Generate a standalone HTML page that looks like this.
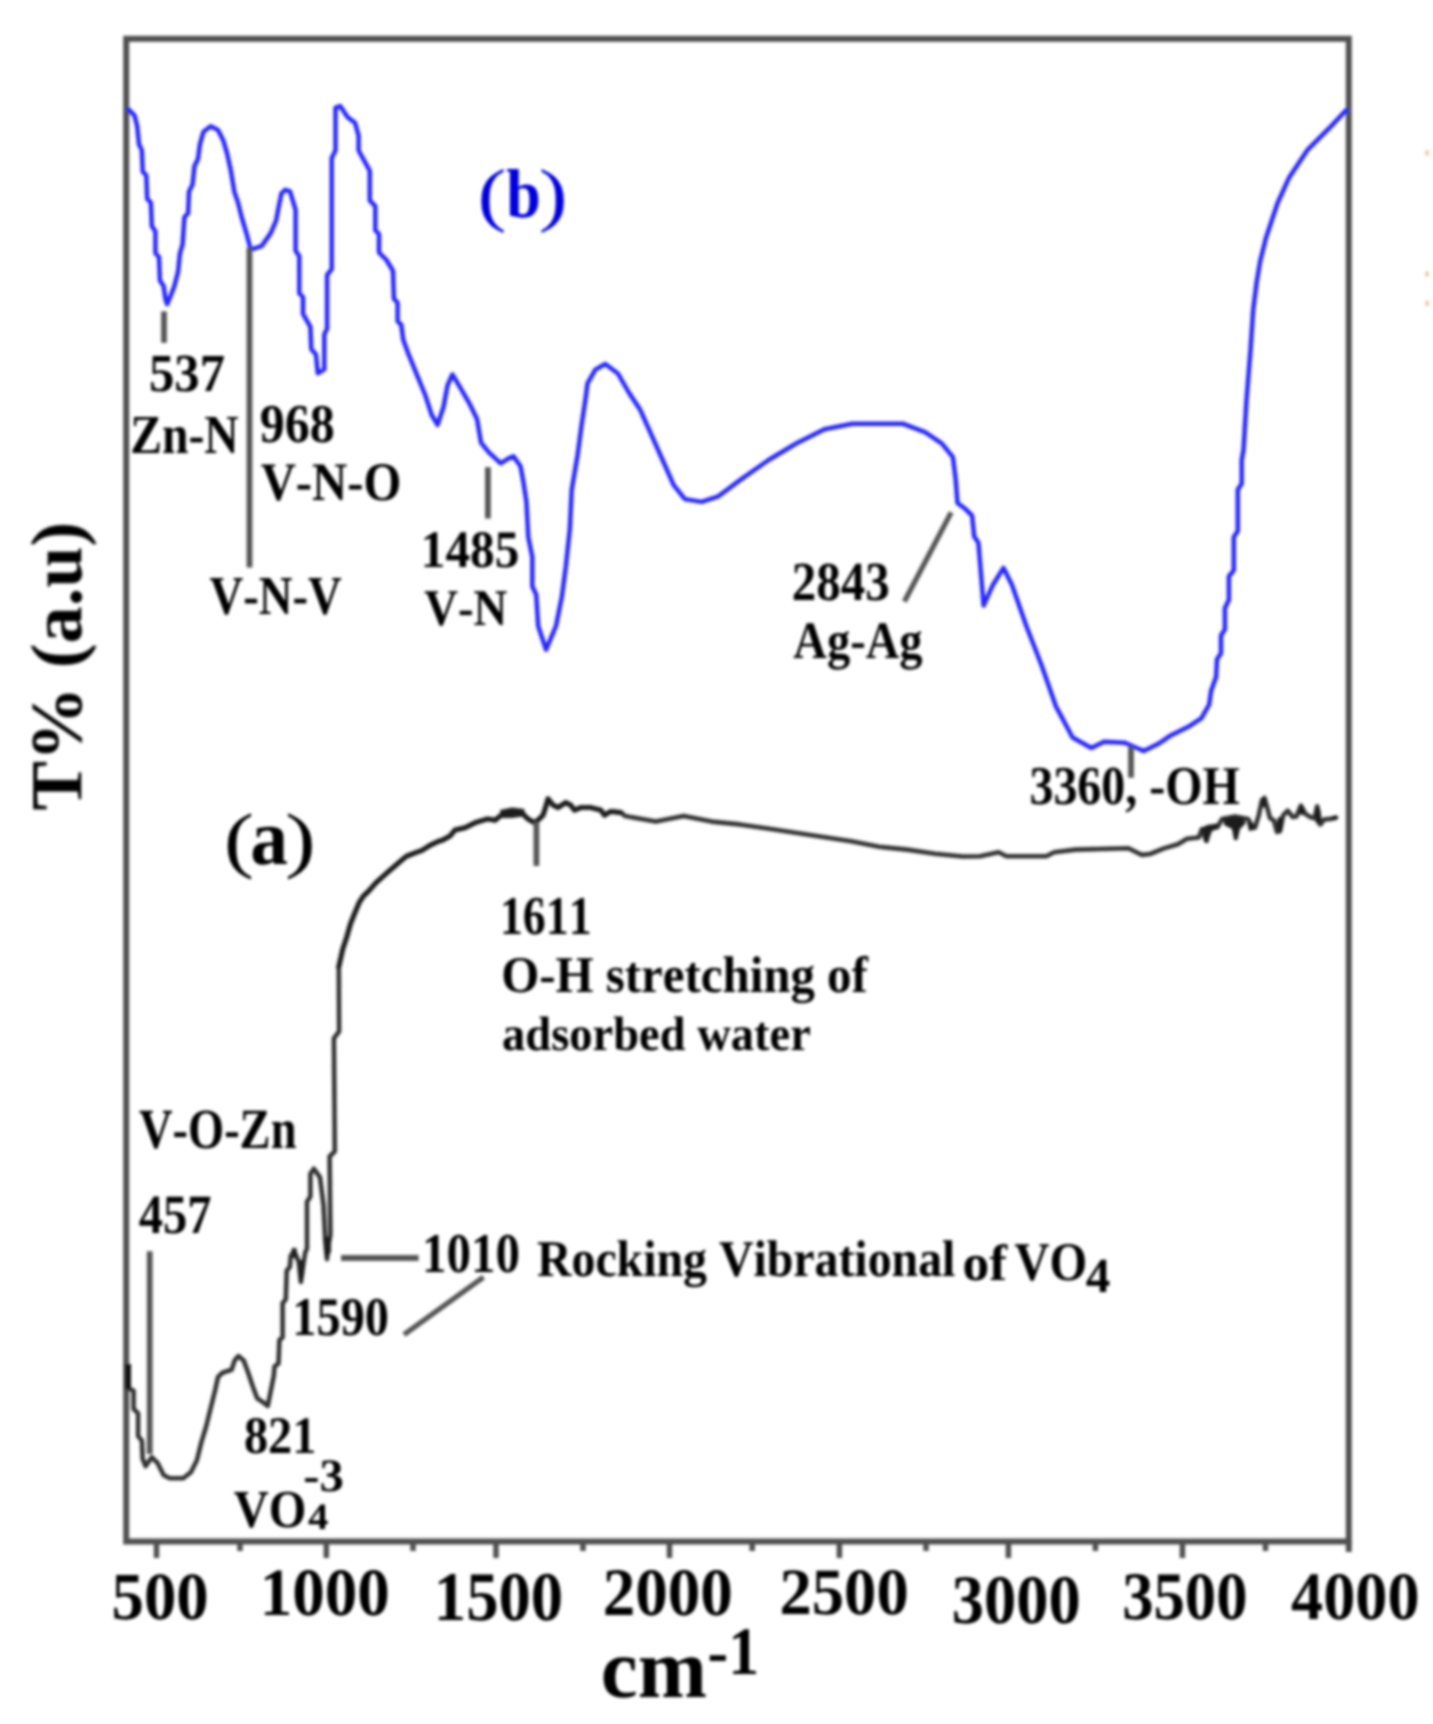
<!DOCTYPE html>
<html><head><meta charset="utf-8"><style>
html,body{margin:0;padding:0;background:#fff;}
svg{display:block;}
text{font-family:"Liberation Serif",serif;font-weight:bold;font-size:100px;font-kerning:none;text-rendering:geometricPrecision;}
</style></head><body>
<svg width="1433" height="1724" viewBox="0 0 1433 1724">
<defs><filter id="bl" filterUnits="userSpaceOnUse" x="0" y="0" width="1433" height="1724"><feGaussianBlur stdDeviation="1.5"/></filter></defs>
<rect width="1433" height="1724" fill="#fff"/>
<g filter="url(#bl)">
<rect x="126.2" y="38.8" width="1222.6" height="1502.7" fill="none" stroke="#505050" stroke-width="6"/>
<line x1="156.5" y1="1541.5" x2="156.5" y2="1558" stroke="#505050" stroke-width="5.5" stroke-linecap="butt"/>
<line x1="326.3" y1="1541.5" x2="326.3" y2="1558" stroke="#505050" stroke-width="5.5" stroke-linecap="butt"/>
<line x1="496" y1="1541.5" x2="496" y2="1558" stroke="#505050" stroke-width="5.5" stroke-linecap="butt"/>
<line x1="669.5" y1="1541.5" x2="669.5" y2="1558" stroke="#505050" stroke-width="5.5" stroke-linecap="butt"/>
<line x1="839.4" y1="1541.5" x2="839.4" y2="1558" stroke="#505050" stroke-width="5.5" stroke-linecap="butt"/>
<line x1="1008.4" y1="1541.5" x2="1008.4" y2="1558" stroke="#505050" stroke-width="5.5" stroke-linecap="butt"/>
<line x1="1182.4" y1="1541.5" x2="1182.4" y2="1558" stroke="#505050" stroke-width="5.5" stroke-linecap="butt"/>
<line x1="240" y1="1541.5" x2="240" y2="1551" stroke="#505050" stroke-width="5.5" stroke-linecap="butt"/>
<line x1="413" y1="1541.5" x2="413" y2="1551" stroke="#505050" stroke-width="5.5" stroke-linecap="butt"/>
<line x1="583" y1="1541.5" x2="583" y2="1551" stroke="#505050" stroke-width="5.5" stroke-linecap="butt"/>
<line x1="752.2" y1="1541.5" x2="752.2" y2="1551" stroke="#505050" stroke-width="5.5" stroke-linecap="butt"/>
<line x1="926" y1="1541.5" x2="926" y2="1551" stroke="#505050" stroke-width="5.5" stroke-linecap="butt"/>
<line x1="1095.4" y1="1541.5" x2="1095.4" y2="1551" stroke="#505050" stroke-width="5.5" stroke-linecap="butt"/>
<line x1="1265.5" y1="1541.5" x2="1265.5" y2="1551" stroke="#505050" stroke-width="5.5" stroke-linecap="butt"/>
<line x1="1348.8" y1="1541.5" x2="1348.8" y2="1552" stroke="#505050" stroke-width="6" stroke-linecap="butt"/>
<polyline points="128.4,109.3 134.5,115.4 137.2,126.3 139.0,144.4 141.8,149.9 142.7,171.7 146.3,175.3 147.2,198.9 150.9,202.5 151.8,226.1 155.4,231.6 155.4,253.3 159.0,257.0 159.9,280.6 163.6,286.0 165.4,298.7 167.2,304.2 171.0,295.0 174.4,286.0 178.1,271.5 179.9,253.3 182.6,244.3 184.4,217.0 188.1,213.4 189.0,191.6 192.6,184.4 194.4,166.2 198.0,159.0 199.9,144.4 203.5,131.7 210.7,126.3 218.0,129.9 223.4,140.8 227.1,153.5 230.7,169.9 234.3,191.6 238.0,202.5 241.6,217.0 247.0,235.2 250.7,249.7 261.6,246.1 270.6,233.4 276.1,220.7 278.8,206.2 281.5,193.4 285.2,189.8 290.0,191.3 295.6,209.9 295.6,250.7 299.3,256.3 299.3,293.4 303.0,297.0 303.0,313.8 310.4,326.8 311.3,349.0 316.0,354.6 317.8,373.2 324.3,369.4 324.3,334.2 327.1,328.7 327.1,274.9 331.7,269.3 331.7,158.0 335.5,150.5 335.5,107.8 340.1,106.0 347.5,117.1 355.0,122.7 358.6,135.7 358.6,150.5 369.8,170.9 369.8,200.6 375.3,206.2 375.3,230.3 379.0,234.0 379.0,252.5 386.5,260.0 393.0,271.0 393.9,298.9 397.6,302.6 397.6,321.2 401.3,324.9 403.2,339.7 408.7,354.6 416.2,373.2 425.4,395.5 431.7,415.0 437.6,424.8 443.5,407.0 447.5,385.4 452.4,374.5 461.3,389.3 469.2,403.1 477.0,418.9 481.0,442.6 488.9,452.4 500.7,463.3 508.6,458.3 513.5,456.4 520.5,466.2 523.4,482.0 526.4,501.7 528.3,537.2 532.3,557.0 532.3,586.5 536.2,594.4 538.2,626.0 546.1,649.7 556.0,626.0 561.9,596.4 565.8,566.8 569.8,529.3 571.7,489.9 577.7,454.4 581.6,424.8 585.5,399.2 587.5,383.4 595.4,369.6 605.3,364.0 617.9,373.5 629.1,393.0 640.2,409.8 651.4,434.9 662.6,460.0 673.7,485.2 684.9,499.1 701.7,501.9 718.4,496.3 740.7,479.6 768.6,460.0 796.6,443.3 824.5,429.3 852.4,423.7 880.3,423.7 902.6,423.7 925.0,432.1 941.7,443.3 952.9,457.2 955.7,479.6 957.5,503.0 965.8,509.3 972.1,515.6 974.2,536.5 978.4,542.8 980.5,567.9 983.6,605.6 993.0,584.7 1003.5,567.9 1011.9,584.7 1026.5,626.5 1041.2,664.2 1055.8,706.1 1072.6,737.5 1091.4,748.0 1104.0,741.7 1124.9,742.7 1143.8,751.1 1158.4,743.8 1169.7,736.1 1189.4,726.2 1201.3,718.3 1209.2,704.5 1211.1,690.7 1216.1,676.9 1217.0,659.2 1221.0,653.3 1221.0,635.5 1224.9,629.6 1224.9,607.9 1228.9,600.0 1228.9,576.3 1233.8,570.4 1233.8,536.9 1237.8,531.0 1237.8,489.6 1241.7,483.7 1241.7,460.0 1243.5,450.0 1246.5,400.0 1250.5,350.0 1253.2,309.7 1256.7,281.9 1260.2,261.0 1266.0,237.8 1277.6,203.0 1289.2,177.4 1307.8,149.6 1331.0,126.4 1346.1,110.2" fill="none" stroke="#2828ff" stroke-width="4.5" stroke-linejoin="round" stroke-linecap="round"/>
<polyline points="127.5,1366.7 127.5,1387.8 133.6,1390.8 133.6,1408.9 138.1,1413.4 138.1,1436.0 141.9,1440.6 142.6,1458.7 145.6,1466.2 151.7,1457.2 157.7,1463.2 163.7,1475.3 169.8,1478.3 183.3,1478.3 190.9,1472.2 196.9,1460.2 201.4,1442.1 206.0,1427.0 210.5,1408.9 215.0,1390.8 218.0,1377.2 222.5,1372.7 231.6,1369.7 234.6,1360.6 238.4,1356.1 243.7,1360.6 248.2,1372.7 252.7,1386.3 257.2,1398.3 261.8,1401.4 267.8,1405.9 270.8,1390.8 273.8,1375.7 274.5,1366.6 278.5,1363.4 279.4,1339.8 282.6,1337.4 282.6,1303.3 285.8,1299.3 286.7,1270.8 289.9,1266.8 290.7,1256.2 294.0,1250.6 298.8,1262.0 300.9,1282.0 303.7,1262.0 305.3,1252.2 307.0,1248.7 307.0,1201.7 310.4,1196.5 310.4,1173.9 313.9,1168.7 320.0,1177.4 323.5,1205.2 325.2,1240.0 327.0,1259.1 328.7,1243.5 330.4,1234.8 329.6,1156.5 334.8,1151.3 333.9,1038.3 339.1,1031.3 338.8,966.8 342.7,949.2 346.6,937.5 350.5,923.8 354.4,914.0 359.3,902.3 363.2,896.4 369.1,890.6 375.9,882.8 385.7,874.0 392.5,868.1 400.3,861.3 406.2,856.4 416.0,852.5 421.8,850.5 429.6,845.6 437.5,841.7 443.3,839.8 450.2,835.9 455.0,830.0 465.0,827.7 475.1,822.7 487.7,818.9 495.2,820.2 502.8,813.9 512.8,811.4 522.9,813.9 527.9,818.9 534.2,822.7 538.0,820.2 543.0,815.2 545.5,807.6 548.0,798.8 553.0,805.1 558.0,807.6 565.6,802.6 570.6,805.1 574.4,810.1 580.7,807.6 590.7,807.6 600.8,810.1 604.5,815.2 610.8,811.4 620.9,812.6 625.1,816.1 655.8,821.6 683.7,816.1 711.7,821.6 739.6,824.4 767.5,828.6 795.4,832.8 823.3,837.0 851.2,841.2 879.1,846.8 907.1,849.6 935.0,853.7 962.9,856.5 980.0,856.2 998.6,852.2 1006.5,856.2 1046.3,856.2 1054.2,852.2 1075.5,849.6 1128.5,848.2 1141.8,854.9 1150.0,854.0 1164.0,848.4 1177.9,844.2 1187.0,838.8 1198.8,837.5 1202.0,829.0 1206.5,841.0 1209.0,829.0 1217.7,827.0 1222.0,819.0 1235.0,816.5 1248.0,819.0 1252.0,826.0 1255.0,827.7 1258.8,815.1 1262.0,800.0 1264.5,798.0 1267.6,808.8 1270.1,818.3 1273.8,820.2 1277.0,832.0 1280.0,831.0 1283.3,815.1 1287.7,810.7 1292.7,817.0 1296.5,816.4 1300.9,805.7 1305.3,813.9 1310.3,817.0 1314.7,818.3 1317.2,806.3 1320.3,824.5 1324.1,819.5 1330.4,818.9 1336.0,817.6" fill="none" stroke="#333" stroke-width="4.6" stroke-linejoin="round" stroke-linecap="round"/>
<polyline points="338.8,966.8 342.7,949.2 346.6,937.5 350.5,923.8 354.4,914.0 359.3,902.3 363.2,896.4 369.1,890.6 375.9,882.8 385.7,874.0 392.5,868.1 400.3,861.3 406.2,856.4 416.0,852.5 421.8,850.5 429.6,845.6 437.5,841.7 443.3,839.8 450.2,835.9 455.0,830.0 465.0,827.7 475.1,822.7 487.7,818.9 495.2,820.2 502.8,813.9 512.8,811.4 522.9,813.9 527.9,818.9 534.2,822.7 538.0,820.2 543.0,815.2 545.5,807.6 548.0,798.8 553.0,805.1 558.0,807.6 565.6,802.6 570.6,805.1 574.4,810.1 580.7,807.6 590.7,807.6 600.8,810.1 604.5,815.2 610.8,811.4 620.9,812.6" fill="none" stroke="#1e1e1e" stroke-width="5.0" stroke-linejoin="round" stroke-linecap="round"/>
<polygon points="1223,818.5 1234,816.5 1243,818 1246,823 1240,829 1237.5,840 1234,840 1232,829 1224,825" fill="#1a1a1a"/>
<polygon points="1200,829 1207,825 1217,823.5 1219,828 1212,831 1208,842 1204,842 1203,832" fill="#1a1a1a"/>
<polygon points="299,1260 303.7,1260 303.7,1276 301,1282 299,1276" fill="#1a1a1a"/>
<polygon points="292,1248 296.5,1248 296.5,1258 292,1258" fill="#1a1a1a"/>
<polygon points="324.5,1237 331,1237 331,1252 327,1258 324.5,1252" fill="#1a1a1a"/>
<polygon points="1247,822 1254,824 1254,830 1249,831" fill="#1a1a1a"/>
<polygon points="500,810 512,807.5 524,809 526,816 512,818 501,818" fill="#1a1a1a"/>
<rect x="125" y="1364" width="6" height="25" fill="#111"/>
<ellipse cx="1263.8" cy="802.5" rx="2.2" ry="5" fill="#1a1a1a"/>
<ellipse cx="1279.8" cy="824.5" rx="3" ry="8" fill="#1a1a1a"/>
<ellipse cx="1301.8" cy="810.4" rx="2.5" ry="4.5" fill="#1a1a1a"/>
<ellipse cx="1317.8" cy="815.4" rx="3" ry="9" fill="#1a1a1a"/>
<ellipse cx="1334.5" cy="818" rx="3" ry="2.2" fill="#1a1a1a"/>
<line x1="164" y1="311.4" x2="164" y2="342.8" stroke="#555" stroke-width="5.8" stroke-linecap="butt"/>
<line x1="249.5" y1="247.5" x2="249.5" y2="567.4" stroke="#555" stroke-width="5.8" stroke-linecap="butt"/>
<line x1="487.9" y1="467.2" x2="487.9" y2="518.5" stroke="#555" stroke-width="5.8" stroke-linecap="butt"/>
<line x1="904.4" y1="601.5" x2="951.2" y2="512.4" stroke="#555" stroke-width="5.2" stroke-linecap="butt"/>
<line x1="1131" y1="746.4" x2="1131" y2="777.7" stroke="#555" stroke-width="5.8" stroke-linecap="butt"/>
<line x1="536.4" y1="821.9" x2="536.4" y2="866" stroke="#555" stroke-width="5.8" stroke-linecap="butt"/>
<line x1="149.7" y1="1251.3" x2="149.7" y2="1454.1" stroke="#555" stroke-width="5.8" stroke-linecap="butt"/>
<line x1="341" y1="1258" x2="418.6" y2="1258" stroke="#555" stroke-width="5.8" stroke-linecap="butt"/>
<line x1="404" y1="1334.7" x2="483.5" y2="1277.1" stroke="#555" stroke-width="5.2" stroke-linecap="butt"/>
<text transform="matrix(0.50712 0 0 0.53581 148.97 390.58)" fill="#000">537</text>
<text transform="matrix(0.47626 0 0 0.55133 130.22 453.10)" fill="#000">Zn-N</text>
<text transform="matrix(0.50019 0 0 0.54682 259.83 441.97)" fill="#000">968</text>
<text transform="matrix(0.48760 0 0 0.54338 260.65 500.28)" fill="#000">V-N-O</text>
<text transform="matrix(0.46689 0 0 0.54932 209.48 613.97)" fill="#000">V-N-V</text>
<text transform="matrix(0.49222 0 0 0.52608 420.86 567.29)" fill="#000">1485</text>
<text transform="matrix(0.46665 0 0 0.51499 424.28 625.22)" fill="#000">V-N</text>
<text transform="matrix(0.48965 0 0 0.54979 791.74 599.76)" fill="#000">2843</text>
<text transform="matrix(0.46486 0 0 0.52789 793.35 657.75)" fill="#000">Ag-Ag</text>
<text transform="matrix(0.47964 0 0 0.54768 1029.40 803.72)" fill="#000">3360, -OH</text>
<text transform="matrix(0.86826 0 0 0.70803 477.48 218.13)" fill="#0000dd" style="font-weight:normal">(</text>
<text transform="matrix(0.62235 0 0 0.69072 506.21 217.43)" fill="#0000dd">b</text>
<text transform="matrix(0.86826 0 0 0.70803 538.80 218.13)" fill="#0000dd" style="font-weight:normal">)</text>
<text transform="matrix(0.90719 0 0 0.73230 223.71 864.21)" fill="#000" style="font-weight:normal">(</text>
<text transform="matrix(0.75557 0 0 0.79331 250.17 863.73)" fill="#000">a</text>
<text transform="matrix(0.92666 0 0 0.73230 284.91 864.21)" fill="#000" style="font-weight:normal">)</text>
<text transform="matrix(0.45874 0 0 0.54623 499.93 933.87)" fill="#000">1611</text>
<text transform="matrix(0.48891 0 0 0.51470 501.21 992.44)" fill="#000">O-H stretching of</text>
<text transform="matrix(0.46503 0 0 0.48464 502.10 1049.63)" fill="#000">adsorbed water</text>
<text transform="matrix(0.46509 0 0 0.56700 138.88 1147.54)" fill="#000">V-O-Zn</text>
<text transform="matrix(0.48566 0 0 0.55542 138.74 1232.66)" fill="#000">457</text>
<text transform="matrix(0.48888 0 0 0.56016 422.09 1272.45)" fill="#000">1010</text>
<text transform="matrix(0.48357 0 0 0.54386 292.33 1335.17)" fill="#000">1590</text>
<text transform="matrix(0.47804 0 0 0.51452 536.98 1275.80)" fill="#000">Rocking Vibrational</text>
<text transform="matrix(0.53437 0 0 0.51271 962.46 1279.50)" fill="#000">of</text>
<text transform="matrix(0.48544 0 0 0.54523 1014.55 1279.50)" fill="#000">VO</text>
<text transform="matrix(0.49169 0 0 0.49073 1085.83 1291.80)" fill="#000">4</text>
<text transform="matrix(0.48338 0 0 0.52756 243.90 1452.68)" fill="#000">821</text>
<text transform="matrix(0.48674 0 0 0.46437 303.32 1491.35)" fill="#000">-3</text>
<text transform="matrix(0.48474 0 0 0.53452 233.76 1527.19)" fill="#000">VO</text>
<text transform="matrix(0.40832 0 0 0.37223 307.94 1529.00)" fill="#000">4</text>
<text transform="matrix(0.64774 0 0 0.67427 111.51 1619.04)" fill="#000">500</text>
<text transform="matrix(0.65043 0 0 0.67575 259.69 1615.04)" fill="#000">1000</text>
<text transform="matrix(0.64671 0 0 0.69502 433.82 1619.62)" fill="#000">1500</text>
<text transform="matrix(0.65107 0 0 0.67871 602.67 1615.14)" fill="#000">2000</text>
<text transform="matrix(0.64534 0 0 0.66241 779.59 1614.05)" fill="#000">2500</text>
<text transform="matrix(0.64438 0 0 0.69502 951.78 1622.92)" fill="#000">3000</text>
<text transform="matrix(0.62672 0 0 0.67871 1122.14 1618.54)" fill="#000">3500</text>
<text transform="matrix(0.64212 0 0 0.67871 1291.12 1618.54)" fill="#000">4000</text>
<text transform="matrix(0.83144 0 0 0.84293 600.86 1697.22)" fill="#000">cm</text>
<text transform="matrix(0.61910 0 0 0.67711 707.53 1674.20)" fill="#000">-1</text>
<text transform="translate(81.30 810.46) rotate(-90) scale(0.74264 0.73154)" fill="#000">T% (a.u)</text>
<rect x="1425.5" y="150.4" width="3" height="5" fill="#f0a050" opacity="0.7"/>
<rect x="1425.5" y="271.5" width="3" height="5" fill="#f0a050" opacity="0.7"/>
<rect x="1425.5" y="300.8" width="3" height="5" fill="#f0a050" opacity="0.7"/>
</g></svg>
</body></html>
